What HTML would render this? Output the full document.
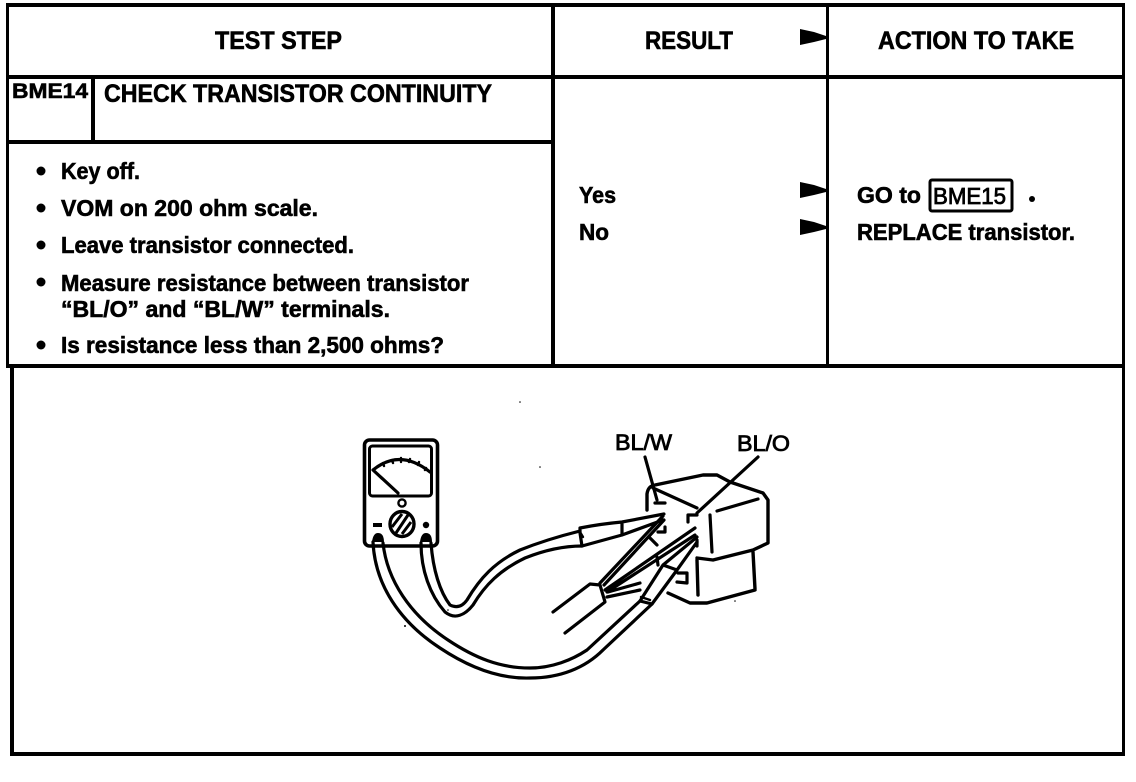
<!DOCTYPE html>
<html><head><meta charset="utf-8"><style>
html,body{margin:0;padding:0;background:#fff;width:1136px;height:782px;overflow:hidden}
svg{display:block}
text{font-family:"Liberation Sans",sans-serif;font-weight:bold;fill:#000;stroke:#000;stroke-width:.6px}
.t{font-size:25px}.b{font-size:23px}
.w{fill:none;stroke:#000;stroke-width:3.2;stroke-linecap:round;stroke-linejoin:round}
.n{fill:none;stroke:#000;stroke-width:2.4;stroke-linecap:round;stroke-linejoin:round}
</style></head><body>
<svg width="1136" height="782" viewBox="0 0 1136 782" xmlns="http://www.w3.org/2000/svg">
<g fill="#000" stroke="none">
<rect x="6" y="3" width="1119" height="4"/>
<rect x="6" y="3" width="3" height="364"/>
<rect x="1122" y="3" width="3" height="752"/>
<rect x="6" y="75" width="1119" height="4"/>
<rect x="551" y="3" width="4" height="364"/>
<rect x="826" y="3" width="3" height="364"/>
<rect x="7" y="140" width="547" height="4"/>
<rect x="6" y="364" width="1119" height="4"/>
<rect x="91" y="78" width="4" height="63"/>
<rect x="10" y="365" width="4" height="390"/>
<rect x="10" y="752" width="1115" height="4"/>
<path d="M800 29L814 32L826 36V39L814 42L800 45Z"/>
<path d="M800 182L814 185L826 189V192L814 195L800 198Z"/>
<path d="M800 219L814 222L826 226V229L814 232L800 235Z"/>
<circle cx="41" cy="171" r="4.5"/><circle cx="41" cy="208" r="4.5"/><circle cx="41" cy="245" r="4.5"/><circle cx="41" cy="282" r="4.5"/><circle cx="41" cy="345" r="4.5"/>
<circle cx="1032" cy="199" r="3"/>
</g>
<text class="t" x="215" y="49" textLength="127" lengthAdjust="spacingAndGlyphs">TEST STEP</text>
<text class="t" x="645" y="49" textLength="88" lengthAdjust="spacingAndGlyphs">RESULT</text>
<text class="t" x="878" y="49" textLength="196" lengthAdjust="spacingAndGlyphs">ACTION TO TAKE</text>
<text x="12" y="98" textLength="76" lengthAdjust="spacingAndGlyphs" style="font-size:21px">BME14</text>
<text class="t" x="104" y="102" textLength="388" lengthAdjust="spacingAndGlyphs">CHECK TRANSISTOR CONTINUITY</text>
<text class="b" x="61" y="179" textLength="79" lengthAdjust="spacingAndGlyphs">Key off.</text>
<text class="b" x="61" y="216" textLength="257" lengthAdjust="spacingAndGlyphs">VOM on 200 ohm scale.</text>
<text class="b" x="61" y="253" textLength="293" lengthAdjust="spacingAndGlyphs">Leave transistor connected.</text>
<text class="b" x="61" y="291" textLength="408" lengthAdjust="spacingAndGlyphs">Measure resistance between transistor</text>
<text class="b" x="61" y="317" textLength="329" lengthAdjust="spacingAndGlyphs">“BL/O” and “BL/W” terminals.</text>
<text class="b" x="61" y="353" textLength="383" lengthAdjust="spacingAndGlyphs">Is resistance less than 2,500 ohms?</text>
<text class="b" x="579" y="203" textLength="37" lengthAdjust="spacingAndGlyphs">Yes</text>
<text class="b" x="579" y="240" textLength="30" lengthAdjust="spacingAndGlyphs">No</text>
<text class="b" x="857" y="203" textLength="64" lengthAdjust="spacingAndGlyphs">GO to</text>
<rect x="930" y="180" width="82" height="31" rx="2" fill="none" stroke="#000" stroke-width="3"/>
<text x="933" y="204" textLength="73" lengthAdjust="spacingAndGlyphs" style="font-size:23px;font-weight:normal;stroke-width:.8px">BME15</text>
<text class="b" x="857" y="240" textLength="218" lengthAdjust="spacingAndGlyphs">REPLACE transistor.</text>
<text x="615" y="450" textLength="57" lengthAdjust="spacingAndGlyphs" style="font-size:22px;font-weight:normal;stroke-width:.8px">BL/W</text>
<text x="737" y="451" textLength="53" lengthAdjust="spacingAndGlyphs" style="font-size:22px;font-weight:normal;stroke-width:.8px">BL/O</text>

<!-- meter -->
<rect x="364.5" y="440" width="73" height="106" rx="5" fill="none" stroke="#000" stroke-width="3.6"/>
<rect x="369.5" y="446" width="62" height="50" rx="3" fill="none" stroke="#000" stroke-width="3"/>
<path class="w" d="M373 470Q400 448 430 472M373 470L398 493"/>
<path class="n" d="M383 463l1 3M392 460l1 3M401 458v4M410 459l-1 3M419 462l-1 3M426 468l-1 2"/>
<circle cx="402" cy="503" r="3.6" fill="none" stroke="#000" stroke-width="2.4"/>
<ellipse cx="402" cy="524" rx="12" ry="12.5" fill="none" stroke="#000" stroke-width="3.4"/>
<path d="M396 533L408 515M392 527L402 514M402 534L411 522" fill="none" stroke="#000" stroke-width="3"/>
<rect x="373" y="523" width="9" height="4" fill="#000"/>
<circle cx="426" cy="525" r="3.2" fill="#000"/>
<!-- plugs -->
<path d="M373 542Q374 534 378 534Q383 534 383 542" fill="#000" stroke="#000" stroke-width="2"/>
<path d="M421 542Q422 534 426 534Q431 534 431 542" fill="#000" stroke="#000" stroke-width="2"/>
<!-- black lead tube -->
<path class="w" d="M373 542C375 585 400 622 440 648C470 668 500 679 530 678C560 678 585 668 603 650L652 604"/>
<path class="w" d="M383 543C387 580 410 615 448 640C475 658 500 668 530 668C552 668 572 660 587 650L640 601"/>
<!-- red lead tube -->
<path class="w" d="M421 543C421 570 430 595 445 612C455 620 465 615 473 605C485 585 500 570 525 558C540 552 560 546 582 546"/>
<path class="w" d="M431 543C433 570 440 592 450 605C456 608 462 607 467 600C480 578 495 562 520 550C540 542 560 536 580 531"/>
<!-- connector -->
<path class="w" style="stroke-width:3.4" d="M647 510V494Q648 486 655 485L703 475H717L730 482L763 493L768 500V543L753 550L713 560L697 558"/>
<path class="w" style="stroke-width:3.4" d="M697 560L698 595M753 552L755 589M668 593L690 603H707L755 590"/>
<path class="w" d="M653 488L697 508M717 511L758 499M710 515L712 552"/>
<path class="w" d="M645 457L657 500M758 457L697 513"/>
<path class="w" d="M655 503H665M665 527V532H658M688 515H697M697 540V546M688 515V522"/>
<path class="w" d="M650 538L657 545M657 557L658 565M678 573H687V583L677 582"/>
<!-- upper probe -->
<path class="w" d="M580 528Q600 524 622 522L664 514M582 546Q600 541 622 535L663 520M622 522L622 535M580 528V533L582 546"/>
<path class="n" d="M580 532L583 537"/>
<!-- bundled wires -->
<path class="w" d="M553 612L590 584L600 585L605 602L565 633"/>
<path class="w" d="M600 583L663 516M604 585L664 520M605 590L695 528M607 592L695 535M640 583L608 592M640 590L607 597"/>
<!-- lower probe -->
<path class="w" d="M640 601L663 565L697 537M652 604L677 570L697 542M640 601L652 604M663 565L677 570"/>
<path class="n" d="M641 597L650 600"/>
<g fill="#000"><circle cx="520" cy="402" r=".8"/><circle cx="448" cy="610" r=".8"/><circle cx="405" cy="626" r="1"/><circle cx="735" cy="601" r=".8"/><circle cx="540" cy="467" r=".8"/></g>
</svg>
</body></html>
